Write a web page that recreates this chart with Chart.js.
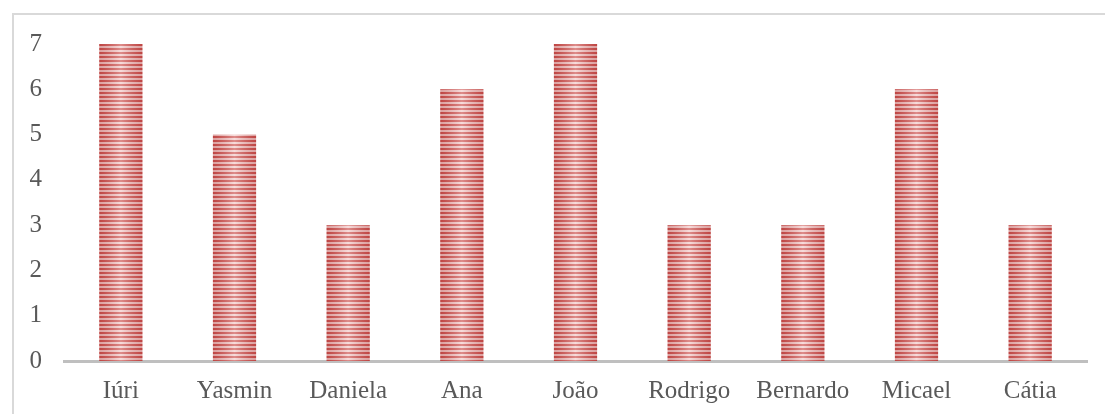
<!DOCTYPE html>
<html>
<head>
<meta charset="utf-8">
<script src="https://cdn.jsdelivr.net/npm/chart.js@4/dist/chart.umd.min.js"></script>
<style>
  html, body { margin: 0; padding: 0; background: #fff; overflow: hidden; }
  #wrap { position: relative; width: 1105px; height: 414px; }
  #frame {
    position: absolute; left: 12px; top: 13px;
    width: 1200px; height: 500px;
    border: 2px solid #d9d9d9; box-sizing: border-box;
  }
  canvas { position: absolute; left: 0; top: 0; }
</style>
</head>
<body>
<div id="wrap">
  <div id="frame"></div>
  <canvas id="chart" width="1105" height="414"></canvas>
</div>
<script>
const names = ['Iúri', 'Yasmin', 'Daniela', 'Ana', 'João', 'Rodrigo', 'Bernardo', 'Micael', 'Cátia'];
const scores = [7, 5, 3, 6, 7, 3, 3, 6, 3];
const yTicks = [0, 1, 2, 3, 4, 5, 6, 7];

// horizontal red stripes used to fill the bars
function stripes() {
  const c = document.createElement('canvas');
  c.width = 4; c.height = 4;
  const g = c.getContext('2d');
  g.fillStyle = '#f3c9c8';
  g.fillRect(0, 0, 4, 4);
  g.fillStyle = '#cc4f4c';
  g.fillRect(0, 0, 4, 2);
  return g.createPattern(c, 'repeat');
}

// lighten the middle of each bar so it looks rounded
const barShine = {
  id: 'barShine',
  afterDatasetDraw(chart, args) {
    const ctx = chart.ctx;
    args.meta.data.forEach(bar => {
      const p = bar.getProps(['x', 'y', 'base', 'width'], true);
      const x0 = p.x - p.width / 2, x1 = p.x + p.width / 2;
      const grad = ctx.createLinearGradient(x0, 0, x1, 0);
      grad.addColorStop(0, 'rgba(150,40,40,0.25)');
      grad.addColorStop(0.5, 'rgba(255,255,255,0.35)');
      grad.addColorStop(1, 'rgba(150,40,40,0.25)');
      ctx.save();
      ctx.fillStyle = grad;
      ctx.fillRect(x0, p.y, p.width, p.base - p.y);
      ctx.restore();
    });
  }
};

const font = { family: '"Liberation Serif", serif', size: 25 };

new Chart(document.getElementById('chart'), {
  type: 'bar',
  data: {
    labels: names,
    datasets: [{
      data: scores,
      backgroundColor: stripes(),
      borderWidth: 0,
      categoryPercentage: 1,
      barPercentage: 0.38
    }]
  },
  options: {
    responsive: false,
    animation: false,
    layout: { padding: { left: 0, right: 18, top: 44, bottom: 0 } },
    plugins: { legend: { display: false }, tooltip: { enabled: false } },
    scales: {
      x: {
        grid: { display: true, drawOnChartArea: false, drawTicks: false },
        border: { display: true, color: '#bfbfbf', width: 3 },
        ticks: { color: '#595959', font: font, padding: 15, maxRotation: 0 },
        afterFit(s) { s.height = 53; }
      },
      y: {
        min: 0,
        max: 7,
        grid: { display: false },
        border: { display: false },
        ticks: {
          color: '#595959', font: font, padding: 14,
          stepSize: 1,
          callback: v => yTicks.includes(v) ? String(v) : ''
        },
        afterFit(s) { s.width = 64; }
      }
    }
  },
  plugins: [barShine]
});
</script>
</body>
</html>
